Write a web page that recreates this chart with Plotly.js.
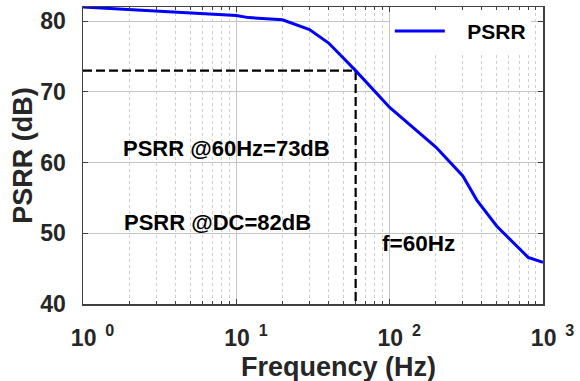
<!DOCTYPE html>
<html>
<head>
<meta charset="utf-8">
<script src="https://cdn.plot.ly/plotly-3.0.1.min.js"></script>
<style>html,body{margin:0;padding:0;background:#fff}#chart{width:580px;height:381px}</style>
</head>
<body>
<div id="chart"></div>
<script>
// Data
const freqHz = [1, 10, 12, 20, 30, 40, 60, 100, 200, 300, 370, 500, 800, 1000];
const psrrDb = [82, 80.8, 80.5, 80.2, 78.8, 76.9, 73, 67.8, 62.2, 58.1, 54.7, 51.0, 46.6, 45.9];
const markerFreq = [1, 60, 60];
const markerDb = [73, 73, 40];
const xTickVals = [1, 10, 100, 1000];
const xTickText = ['\u00a0\u00a0\u00a010<sup>\u00a0\u00a00</sup>', '\u00a0\u00a0\u00a010<sup>\u00a0\u00a01</sup>', '\u00a0\u00a0\u00a010<sup>\u00a0\u00a02</sup>', '\u00a0\u00a0\u00a010<sup>\u00a0\u00a03</sup>'];
const yTickVals = [40, 50, 60, 70, 80];
const labels = ['PSRR @60Hz=73dB', 'PSRR @DC=82dB', 'f=60Hz'];
const xTitle = 'Frequency (Hz)';
const yTitle = 'PSRR (dB)';

const FONT = 'Liberation Sans, Arial, sans-serif';
const axisCol = '#404040';
const txtCol = '#262626';

const traces = [
  {x: markerFreq, y: markerDb, type: 'scatter', mode: 'lines', showlegend: false,
   line: {color: '#000000', width: 2.2, dash: '9px,4px'}, hoverinfo: 'skip'},
  {x: freqHz, y: psrrDb, type: 'scatter', mode: 'lines', name: '\u00a0\u00a0\u00a0PSRR',
   line: {color: '#0000ff', width: 3}}
];

const layout = {
  width: 580, height: 381,
  margin: {l: 83, r: 37, t: 7, b: 77},
  paper_bgcolor: '#ffffff', plot_bgcolor: '#ffffff',
  font: {family: FONT, color: txtCol, weight: 'bold'},
  xaxis: {
    type: 'log', range: [0, 3],
    tickmode: 'array', tickvals: xTickVals, ticktext: xTickText,
    tickfont: {size: 23, family: FONT, color: txtCol, weight: 'bold'},
    ticks: 'inside', ticklen: 5, tickcolor: axisCol, tickwidth: 1,
    showline: true, linecolor: axisCol, linewidth: 1.5, mirror: 'ticks',
    showgrid: true, gridcolor: '#c4c4c4', gridwidth: 1,
    minor: {dtick: 'D1', ticks: 'inside', ticklen: 3, tickcolor: axisCol,
            showgrid: true, gridcolor: '#cfcfcf', griddash: 'dot', gridwidth: 1},
    zeroline: false, ticklabelstandoff: 13
  },
  yaxis: {
    range: [40, 82],
    tickmode: 'array', tickvals: yTickVals,
    tickfont: {size: 23, family: FONT, color: txtCol, weight: 'bold'},
    ticks: 'inside', ticklen: 5, tickcolor: axisCol, tickwidth: 1,
    showline: true, linecolor: axisCol, linewidth: 1.5, mirror: 'ticks',
    showgrid: true, gridcolor: '#c4c4c4', gridwidth: 1,
    zeroline: false, ticklabelstandoff: 11,
    title: {text: yTitle, font: {size: 27, family: FONT, color: txtCol, weight: 'bold'}, standoff: 0}
  },
  legend: {
    x: 0.667, xanchor: 'left', y: 0.987, yanchor: 'top',
    bgcolor: '#ffffff', borderwidth: 0, itemwidth: 50,
    font: {size: 21, family: FONT, color: '#000000', weight: 'bold'}
  },
  annotations: [
    {xref: 'paper', yref: 'paper', x: 0.083, y: 0.525, xanchor: 'left', yanchor: 'middle', showarrow: false,
     text: labels[0], font: {size: 22, family: FONT, color: '#000000', weight: 'bold'}},
    {xref: 'paper', yref: 'paper', x: 0.085, y: 0.276, xanchor: 'left', yanchor: 'middle', showarrow: false,
     text: labels[1], font: {size: 22, family: FONT, color: '#000000', weight: 'bold'}},
    {xref: 'paper', yref: 'paper', x: 0.645, y: 0.205, xanchor: 'left', yanchor: 'middle', showarrow: false,
     text: labels[2], font: {size: 22.5, family: FONT, color: '#000000', weight: 'bold'}},
    {xref: 'paper', yref: 'paper', x: 0.735, y: -0.155, xanchor: 'center', yanchor: 'top', showarrow: false,
     text: xTitle, font: {size: 27, family: FONT, color: txtCol, weight: 'bold'}}
  ],
  showlegend: true
};
// x-axis title centre sits right of the plot centre in the reference
layout.annotations[3].x = (338 - 83) / 460;

Plotly.newPlot('chart', traces, layout, {staticPlot: true, displayModeBar: false});
</script>
</body>
</html>
